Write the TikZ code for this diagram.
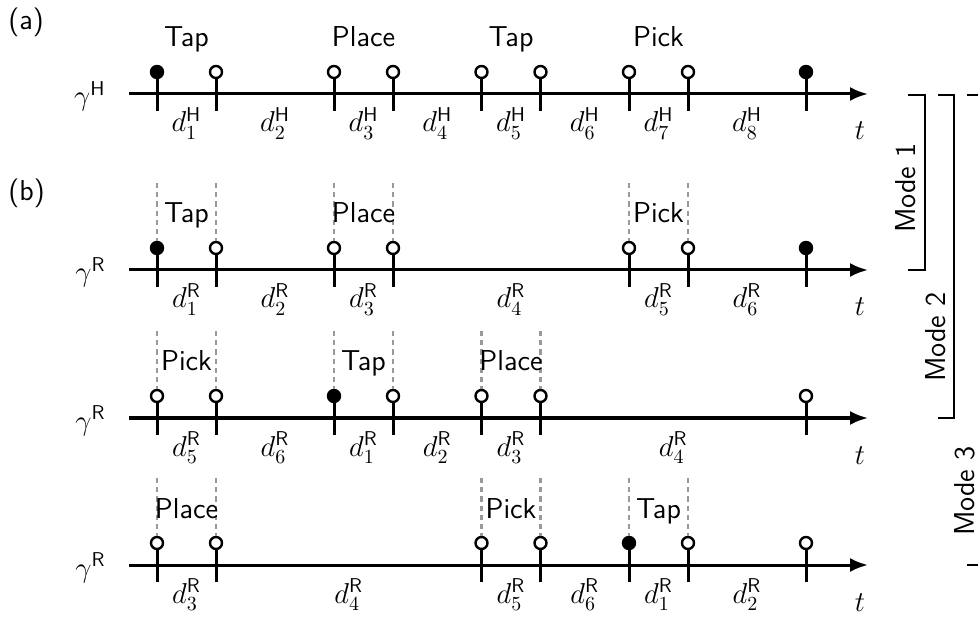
\documentclass[tikz,border=0pt]{standalone}
\usepackage{fontspec}
\usetikzlibrary{arrows.meta}
\newcommand\lblfont{\fontsize{14.4}{17}\selectfont}
\begin{document}
\begin{tikzpicture}[x=0.5pt,y=-0.5pt,
  font=\lblfont\sffamily,
  axis/.style={line width=1.5pt,-{Latex[length=9pt,width=7pt]}},
  stem/.style={line width=1.5pt},
  knob/.style={circle,draw,line width=1.2pt,inner sep=0pt,minimum size=6pt},
  guide/.style={draw=black!40,line width=1.3pt,dash pattern=on 2.6pt off 2pt},
  durlab/.style={anchor=base,inner sep=0pt},
  actlab/.style={anchor=base,inner sep=0pt},
  tlab/.style={anchor=base,inner sep=0pt},
  trajlab/.style={anchor=base east,inner sep=0pt},
  bracket/.style={line width=1.4pt},
  modelab/.style={rotate=90,inner sep=0pt}]
\useasboundingbox (0,0) rectangle (978,619);
\clip (0,0) rectangle (978,619);

% panel tags
\node[anchor=base west,inner sep=0pt] (tag-a) at (8,30) {(a)};
\node[anchor=base west,inner sep=0pt] (tag-b) at (8,201) {(b)};

% time axes: one human row and three robot rows
\foreach \r/\y/\who in {a/94/H, b/270/R, c/418/R, d/565/R} {
  \coordinate (\r-start) at (129,\y);
  \coordinate (\r-end) at (868,\y);
  \draw[axis] (\r-start) -- (\r-end);
  \node[tlab] (\r-t) at (860,{\y+46}) {$t$};
  \node[trajlab] (\r-gamma) at (106,{\y+12}) {$\gamma^{\mathsf{\who}}$};
}

% lollipop events on each axis (fill colour: black = start/end of cycle)
\foreach \r/\y/\list in {
  a/94/{0/black,2/white,6/white,8/white,11/white,13/white,16/white,18/white,22/black},
  b/270/{0/black,2/white,6/white,8/white,16/white,18/white,22/black},
  c/418/{0/white,2/white,6/black,8/white,11/white,13/white,22/white},
  d/565/{0/white,2/white,11/white,13/white,16/black,18/white,22/white}} {
  \foreach \k/\f in \list {
    \coordinate (\r-top\k) at ({157+29.5*\k},{\y-22});
    \coordinate (\r-bot\k) at ({157+29.5*\k},{\y+17});
    \draw[stem] (\r-bot\k) -- (\r-top\k);
    \node[knob,fill=\f] (\r-knob\k) at (\r-top\k) {};
  }
}

% action names of the human row
\foreach \k/\txt in {1/Tap, 7/Place, 12/Tap, 17/Pick}
  \node[actlab] (a-act\k) at ({157+29.5*\k},{94-47}) {\txt};

% action names of the robot rows, framed by dashed guides
\foreach \r/\y/\list in {
  b/270/{0/Tap,6/Place,16/Pick},
  c/418/{0/Pick,6/Tap,11/Place},
  d/565/{0/Place,11/Pick,16/Tap}} {
  \foreach \k/\txt in \list {
    \pgfmathtruncatemacro\m{\k+2}
    \coordinate (\r-gl\k) at ({157+29.5*\k},{\y-87});
    \coordinate (\r-gr\k) at ({157+29.5*\m},{\y-87});
    \draw[guide] (\r-gl\k) -- ({157+29.5*\k},{\y-29});
    \draw[guide] (\r-gr\k) -- ({157+29.5*\m},{\y-29});
    \node[actlab] (\r-act\k) at ({157+29.5*(\k+1)},{\y-47}) {\txt};
  }
}

% durations between events
\foreach \k/\i in {1/1,4/2,7/3,9.5/4,12/5,14.5/6,17/7,20/8}
  \node[durlab] at ({157+29.5*\k},{94+38}) {$d^{\mathsf{H}}_{\i}$};
\foreach \r/\y/\list in {
  b/270/{1/1,4/2,7/3,12/4,17/5,20/6},
  c/418/{1/5,4/6,7/1,9.5/2,12/3,17.5/4},
  d/565/{1/3,6.5/4,12/5,14.5/6,17/1,20/2}} {
  \foreach \k/\i in \list
    \node[durlab] at ({157+29.5*\k},{\y+38}) {$d^{\mathsf{R}}_{\i}$};
}

% mode brackets
\coordinate (m1-top) at (925,95);
\coordinate (m1-bot) at (925,270);
\draw[bracket] (908,95) -- (m1-top) -- (m1-bot) -- (908,270);
\node[modelab] (m1) at (906,188) {Mode 1};

\coordinate (m2-top) at (954,95);
\coordinate (m2-bot) at (954,418);
\draw[bracket] (938,95) -- (m2-top) -- (m2-bot) -- (938,418);
\node[modelab] (m2) at (936,337) {Mode 2};

\coordinate (m3-top) at (983,95);
\coordinate (m3-bot) at (983,565);
\draw[bracket] (967,95) -- (m3-top) -- (m3-bot) -- (967,565);
\node[modelab] (m3) at (965,491) {Mode 3};
\end{tikzpicture}
\end{document}
